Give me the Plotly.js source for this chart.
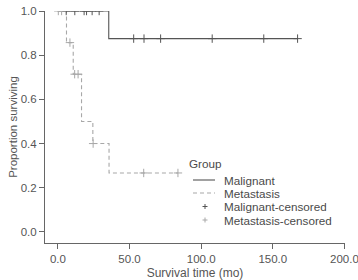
<!DOCTYPE html>
<html><head><meta charset="utf-8">
<script src="https://cdn.plot.ly/plotly-3.0.1.min.js"></script>
<style>html,body{margin:0;padding:0;background:#fff}#c{width:358px;height:280px}</style>
</head><body><div id="c"></div>
<script>
const malX = [0, 35.5, 167.3];
const malY = [1.0, 0.875, 0.875];
const metX = [0, 6.0, 10.7, 16.5, 24.4, 35.7, 83.8];
const metY = [1.0, 0.857, 0.714, 0.5, 0.4, 0.267, 0.267];
const malCensX = [5.8, 11.8, 18.3, 20.0, 23.9, 28.8, 52.9, 60.1, 71.7, 107.7, 143.7, 167.3];
const malCensY = [1, 1, 1, 1, 1, 1, 0.875, 0.875, 0.875, 0.875, 0.875, 0.875];
const metCensX = [0.3, 2.6, 8.4, 11.7, 14.1, 24.6, 59.9, 83.8];
const metCensY = [1, 1, 0.857, 0.714, 0.714, 0.4, 0.267, 0.267];
const xTicks = [0, 50, 100, 150, 200];
const yTicks = [0, 0.2, 0.4, 0.6, 0.8, 1.0];
const legendTitle = 'Group';
const legendNames = ['Malignant', 'Metastasis', 'Malignant-censored', 'Metastasis-censored'];

const dark = '#555555', light = '#a8a8a8';
const FONT = 'Liberation Sans, Arial, sans-serif';
const traces = [
  {x: malX, y: malY, mode: 'lines', line: {shape: 'hv', color: dark, width: 1.1}, name: legendNames[0]},
  {x: metX, y: metY, mode: 'lines', line: {shape: 'hv', color: light, width: 1.1, dash: '4px,3px'}, name: legendNames[1]},
  {x: malCensX, y: malCensY, mode: 'markers', marker: {symbol: 'cross-thin-open', size: 6, color: dark, line: {color: dark, width: 1}}, name: legendNames[2]},
  {x: metCensX, y: metCensY, mode: 'markers', marker: {symbol: 'cross-thin-open', size: 6, color: light, line: {color: light, width: 1}}, name: legendNames[3]}
];

// manual compact legend (paper coords)
const px = p => (p - 45) / 300, py = p => (243 - p) / 232;
const rows = [180, 193, 206.5, 220];
const legFont = {family: FONT, size: 11.7, color: '#4a4a4a'};
const annotations = [
  {text: legendTitle, x: px(188), y: py(163.5), xref: 'paper', yref: 'paper', xanchor: 'left', yanchor: 'middle', showarrow: false, font: legFont, borderpad: 0}
];
legendNames.forEach((n, i) => annotations.push({text: n, x: px(222.5), y: py(rows[i]), xref: 'paper', yref: 'paper', xanchor: 'left', yanchor: 'middle', showarrow: false, font: legFont, borderpad: 0, height: 13}));
const shapes = [
  {type: 'line', xref: 'paper', yref: 'paper', x0: px(193), x1: px(215), y0: py(rows[0]), y1: py(rows[0]), line: {color: dark, width: 1.1}},
  {type: 'line', xref: 'paper', yref: 'paper', x0: px(193), x1: px(215), y0: py(rows[1]), y1: py(rows[1]), line: {color: light, width: 1.1, dash: '4px,3px'}}
];
[[rows[2], dark], [rows[3], light]].forEach(([r, c]) => {
  shapes.push({type: 'line', xref: 'paper', yref: 'paper', x0: px(202.5), x1: px(207.5), y0: py(r), y1: py(r), line: {color: c, width: 1}});
  shapes.push({type: 'line', xref: 'paper', yref: 'paper', x0: px(205), x1: px(205), y0: py(r - 2.5), y1: py(r + 2.5), line: {color: c, width: 1}});
});

const layout = {
  width: 358, height: 280,
  margin: {l: 45, r: 13, t: 11, b: 37},
  paper_bgcolor: '#fff', plot_bgcolor: '#fff',
  font: {family: FONT, size: 11, color: '#555'},
  showlegend: false,
  annotations, shapes,
  xaxis: {range: [-9, 200.4], tickvals: xTicks, tickformat: '.1f', ticks: 'outside', ticklen: 5,
          tickcolor: '#666', showline: true, linecolor: '#666', linewidth: 1, showgrid: false, zeroline: false,
          tickfont: {family: FONT, size: 11.5, color: '#555'}, automargin: false, ticklabeloverflow: 'allow',
          title: {text: 'Survival time (mo)', font: {family: FONT, size: 12, color: '#555'}, standoff: 12}},
  yaxis: {range: [-0.05, 1.0], tickvals: yTicks, tickformat: '.1f', ticks: 'outside', ticklen: 5,
          tickcolor: '#666', showline: true, linecolor: '#666', linewidth: 1, showgrid: false, zeroline: false,
          tickfont: {family: FONT, size: 11.5, color: '#555'}, automargin: false, ticklabeloverflow: 'allow',
          title: {text: 'Proportion surviving', font: {family: FONT, size: 11.5, color: '#555'}, standoff: 0}}
};
Plotly.newPlot('c', traces, layout, {displayModeBar: false, staticPlot: true});
</script></body></html>
